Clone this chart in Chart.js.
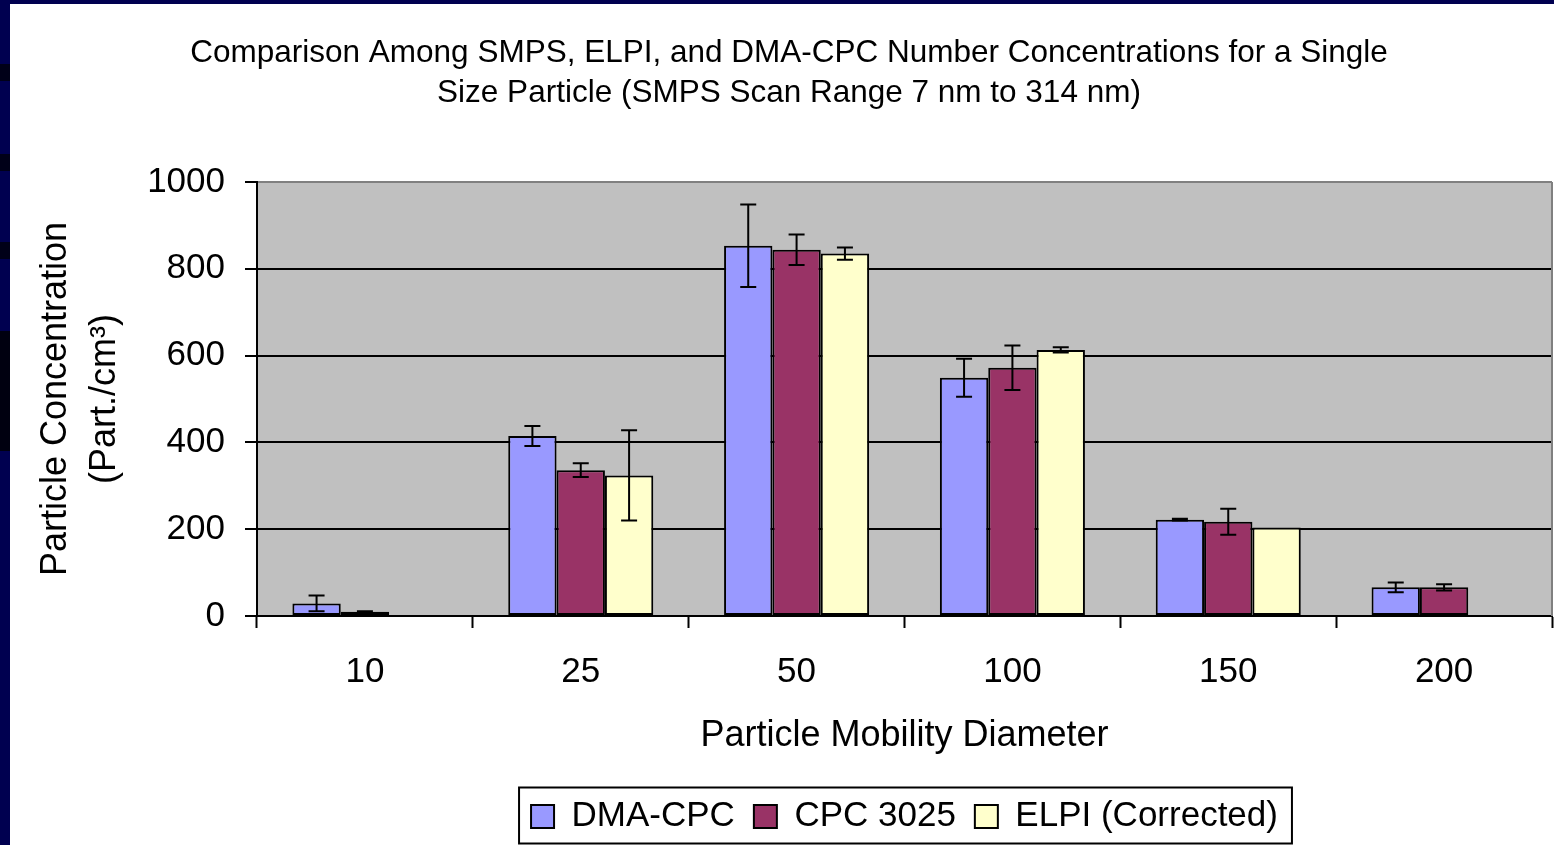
<!DOCTYPE html>
<html lang="en">
<head>
    <meta charset="UTF-8">
    <title>SMPS, ELPI, DMA-CPC Number Concentrations</title>
    <script src="https://cdn.jsdelivr.net/npm/chart.js"></script>
    <style>
        body { margin: 0; background: #000050; width: 1554px; height: 845px; overflow: hidden; position: relative; }
        #page { position: absolute; left: 10px; top: 4px; width: 1544px; height: 841px; background: #fff; }
        .stripe { position: absolute; left: 0; width: 10px; background: #000018; }
    </style>
</head>
<body>
    <div class="stripe" style="top:64px;height:17px"></div>
    <div class="stripe" style="top:154px;height:17px"></div>
    <div class="stripe" style="top:242px;height:17px"></div>
    <div class="stripe" style="top:331px;height:120px;background:#000010"></div>
    <div id="page"><canvas id="myChart" width="1544" height="841"></canvas></div>

    <script>
        // diameters (nm)
        const labels = ['10', '25', '50', '100', '150', '200'];

        const dmaCpc = [29, 415, 853, 549, 222, 66];
        const dmaCpcErr = [18, 23, 95, 44, 2, 11];

        const cpc3025 = [10, 336, 844, 572, 217, 66];
        const cpc3025Err = [1, 16, 35, 51, 30, 7];

        const elpi = [null, 324, 835, 613, 204, null];
        const elpiErr = [null, 104, 14, 6, 0, null];

        const errors = [dmaCpcErr, cpc3025Err, elpiErr];
        const font = 'Liberation Sans, Arial, sans-serif';

        Chart.defaults.color = '#000';
        Chart.defaults.font.family = font;

        // grey plot background + grey right border
        const plotBg = {
            id: 'plotBg',
            beforeDraw(chart) {
                const a = chart.chartArea, c = chart.ctx;
                c.save();
                c.fillStyle = '#c0c0c0';
                c.fillRect(a.left, a.top, a.right - a.left, a.bottom - a.top);
                c.restore();
            },
            beforeDatasetsDraw(chart) {
                const a = chart.chartArea, c = chart.ctx;
                c.save();
                c.strokeStyle = '#808080';
                c.lineWidth = 2;
                c.beginPath();
                c.moveTo(a.right, a.top);
                c.lineTo(a.right, a.bottom);
                c.stroke();
                c.restore();
            }
        };

        const errorBars = {
            id: 'errorBars',
            afterDatasetsDraw(chart) {
                const c = chart.ctx, y = chart.scales.y;
                c.save();
                c.strokeStyle = '#000';
                c.lineWidth = 2;
                chart.data.datasets.forEach((ds, i) => {
                    const meta = chart.getDatasetMeta(i);
                    meta.data.forEach((bar, j) => {
                        const v = ds.data[j], e = errors[i][j];
                        if (v == null || !e) return;
                        const top = y.getPixelForValue(v + e);
                        const bot = y.getPixelForValue(v - e);
                        c.beginPath();
                        c.moveTo(bar.x, top); c.lineTo(bar.x, bot);
                        c.moveTo(bar.x - 8, top); c.lineTo(bar.x + 8, top);
                        c.moveTo(bar.x - 8, bot); c.lineTo(bar.x + 8, bot);
                        c.stroke();
                    });
                });
                c.restore();
            }
        };

        // frame round the legend items
        const legendFrame = {
            id: 'legendFrame',
            afterDraw(chart) {
                const boxes = chart.legend.legendHitBoxes;
                if (!boxes.length) return;
                const left = Math.min(...boxes.map(b => b.left)) - 12;
                const right = Math.max(...boxes.map(b => b.left + b.width)) + 14;
                const mid = boxes[0].top + boxes[0].height / 2;
                const c = chart.ctx;
                c.save();
                c.strokeStyle = '#000';
                c.lineWidth = 2;
                c.strokeRect(left, mid - 29, right - left, 56);
                c.restore();
            }
        };

        const ctx = document.getElementById('myChart').getContext('2d');
        const myChart = new Chart(ctx, {
            type: 'bar',
            data: {
                labels: labels,
                datasets: [
                    { label: 'DMA-CPC', data: dmaCpc, backgroundColor: '#9999ff' },
                    { label: 'CPC 3025', data: cpc3025, backgroundColor: '#993366' },
                    { label: 'ELPI (Corrected)', data: elpi, backgroundColor: '#ffffcc' }
                ].map(d => Object.assign(d, {
                    borderColor: '#000',
                    borderWidth: 2,
                    borderSkipped: false,
                    barPercentage: 1,
                    categoryPercentage: 0.672
                }))
            },
            options: {
                responsive: false,
                animation: false,
                layout: { padding: { left: 16, right: 2, top: 0, bottom: 1 } },
                plugins: {
                    title: {
                        display: true,
                        text: ['Comparison Among SMPS, ELPI, and DMA-CPC Number Concentrations for a Single',
                               'Size Particle (SMPS Scan Range 7 nm to 314 nm)'],
                        font: { size: 31.5, weight: 'normal', lineHeight: 1.27 },
                        padding: { top: 29, bottom: 69 }
                    },
                    legend: {
                        position: 'bottom',
                        fullSize: false,
                        labels: {
                            font: { size: 35 },
                            boxWidth: 23,
                            boxHeight: 23,
                            padding: 19
                        }
                    },
                    tooltip: { enabled: false }
                },
                scales: {
                    x: {
                        afterFit(s) { s.height = 164; },
                        grid: {
                            offset: true,
                            drawOnChartArea: false,
                            drawTicks: true,
                            tickLength: 12,
                            tickColor: '#000',
                            tickWidth: 2
                        },
                        border: { color: '#000', width: 2 },
                        ticks: { font: { size: 35 }, padding: 23, maxRotation: 0 },
                        title: {
                            display: true,
                            text: 'Particle Mobility Diameter',
                            font: { size: 36 },
                            padding: { top: 0, bottom: 22 }
                        }
                    },
                    y: {
                        min: 0,
                        max: 1000,
                        afterFit(s) { s.width = 231; },
                        grid: {
                            color: c => c.tick && c.tick.value === 1000 ? '#808080' : '#000',
                            lineWidth: 2,
                            tickLength: 12,
                            tickColor: '#000',
                            tickWidth: 2
                        },
                        border: { color: '#000', width: 2 },
                        ticks: { stepSize: 200, font: { size: 35 }, padding: 20, callback: v => String(v) },
                        title: {
                            display: true,
                            text: ['Particle Concentration', '(Part./cm³)'],
                            font: { size: 36, lineHeight: 1.36 },
                            padding: { top: 6 }
                        }
                    }
                }
            },
            plugins: [plotBg, errorBars, legendFrame]
        });
    </script>
</body>
</html>
